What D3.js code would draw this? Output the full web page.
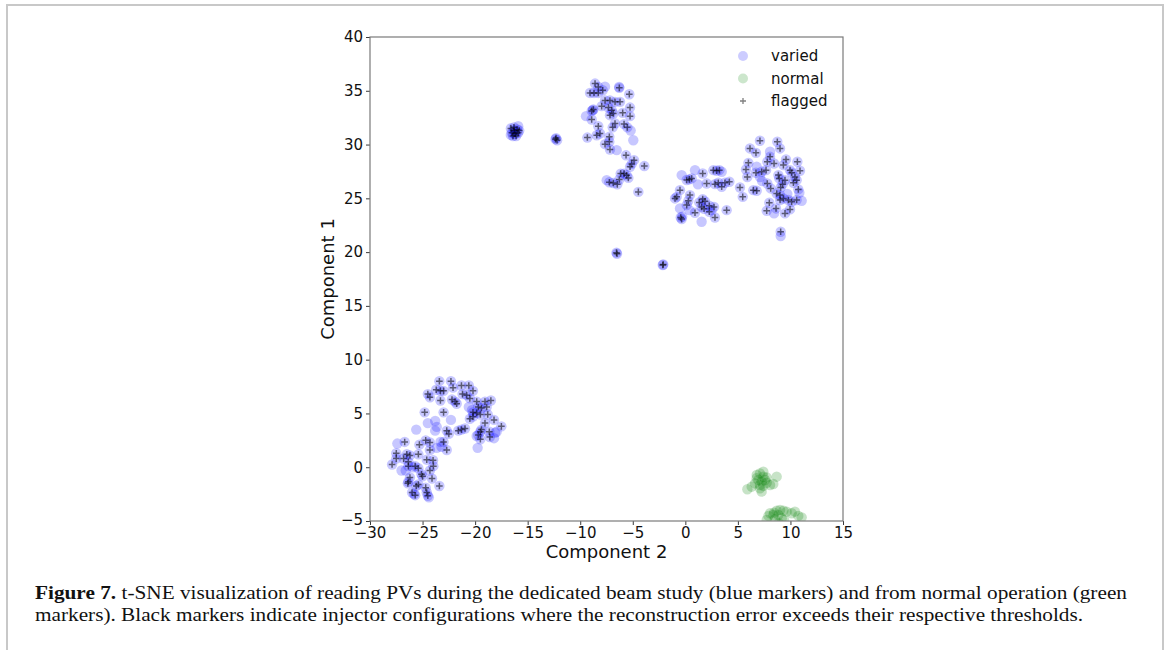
<!DOCTYPE html>
<html>
<head>
<meta charset="utf-8">
<script src="https://cdn.jsdelivr.net/npm/d3@7"></script>
<style>
  body { margin: 0; background: #fff; }
  svg { display: block; }
</style>
</head>
<body>
<div id="chart"></div>
<script>
// ---------- data ----------
// [component 2, component 1, flagged?]
const variedPoints = [
  // lower-left cluster
  [-23.4, 8.0, 1], [-22.3, 8.0, 1], [-21.3, 7.6, 1], [-20.6, 7.6, 1], [-22.1, 7.4, 1],
  [-23.7, 7.2, 1], [-23.3, 7.1, 1], [-23.0, 7.1, 1], [-24.5, 6.8, 1], [-24.3, 6.5, 1],
  [-23.3, 6.2, 1], [-22.2, 6.3, 1], [-21.9, 6.1, 1], [-21.75, 5.9, 1], [-21.2, 6.8, 1],
  [-20.8, 6.7, 1], [-20.2, 7.1, 1], [-20.5, 6.4, 1], [-19.85, 6.1, 1], [-19.06, 6.1, 1],
  [-18.5, 6.2, 1], [-19.7, 5.6, 1], [-19.4, 5.5, 1], [-18.9, 5.6, 1], [-20.2, 5.1, 1],
  [-19.85, 5.05, 1], [-19.5, 4.9, 1], [-18.8, 4.9, 1], [-24.8, 5.1, 1], [-23.0, 5.1, 1],
  [-20.5, 4.5, 1], [-20.2, 4.7, 1], [-19.06, 4.1, 1], [-18.2, 4.4, 1], [-17.5, 3.8, 1],
  [-19.4, 3.5, 1], [-19.5, 3.3, 1], [-19.7, 3.0, 1], [-18.65, 3.3, 1], [-18.6, 2.8, 1],
  [-19.5, 2.6, 1], [-22.7, 3.4, 1], [-22.5, 3.1, 1], [-21.6, 3.4, 1], [-21.3, 3.5, 1],
  [-20.96, 3.6, 1], [-26.7, 2.35, 1], [-25.3, 2.1, 1], [-24.7, 2.5, 1], [-24.3, 2.3, 1],
  [-23.0, 2.35, 1], [-22.7, 1.6, 1], [-24.3, 1.6, 1], [-27.5, 1.3, 1], [-27.5, 0.8, 1],
  [-26.5, 1.2, 1], [-26.2, 1.1, 1], [-25.4, 1.2, 1], [-24.6, 0.7, 1], [-24.0, 0.65, 1],
  [-26.8, 0.8, 1], [-27.9, 0.25, 1], [-26.35, 0.5, 1], [-26.35, 0.1, 1], [-25.7, 0.1, 1],
  [-25.4, -0.1, 1], [-23.97, 0.1, 1], [-24.3, -0.3, 1], [-25.1, -0.65, 1], [-25.0, -0.85, 1],
  [-26.2, -0.95, 1], [-26.35, -1.35, 1], [-26.4, -1.5, 1], [-25.4, -1.6, 1], [-25.6, -1.75, 1],
  [-24.1, -1.05, 1], [-23.4, -1.75, 1], [-24.7, -1.9, 1], [-24.6, -2.35, 1], [-26.0, -2.35, 1],
  [-25.7, -2.6, 1], [-24.5, -2.65, 1],
  [-25.6, 3.5, 0], [-23.8, 4.3, 0], [-23.65, 3.75, 0], [-23.8, 3.4, 0], [-22.3, 4.4, 0],
  [-27.4, 2.2, 0], [-23.3, 2.35, 0], [-23.2, 1.9, 0], [-23.65, 1.8, 0], [-27.0, -0.3, 0],
  [-20.6, 5.6, 0], [-19.85, 2.9, 0], [-19.76, 1.8, 0], [-18.1, 3.2, 0], [-17.95, 3.3, 0],
  [-18.2, 2.7, 0], [-24.5, 4.1, 0], [-25.9, 0.0, 0], [-26.6, -0.3, 0], [-20.3, 5.3, 0],
  [-24.4, -2.8, 0], [-25.8, -2.5, 0],
  // tight cluster near (-16, 31)
  [-16.6, 31.5, 1], [-16.3, 31.6, 1], [-16.0, 31.4, 1], [-16.5, 31.1, 1], [-16.2, 31.0, 1],
  [-15.9, 31.1, 1], [-16.4, 30.8, 1], [-16.1, 30.8, 1], [-15.8, 31.3, 1], [-16.3, 31.3, 1],
  [-16.6, 30.9, 0], [-15.9, 31.7, 0],
  [-12.3, 30.6, 1], [-12.2, 30.4, 1], [-12.35, 30.5, 1],
  // upper S-shaped cluster
  [-8.59, 35.67, 1], [-8.28, 35.36, 1], [-9.07, 34.8, 1], [-8.69, 34.8, 1], [-8.28, 34.8, 1],
  [-7.86, 35.05, 1], [-6.28, 35.27, 1], [-5.33, 34.68, 1], [-7.64, 34.1, 1], [-7.17, 34.1, 1],
  [-6.69, 33.97, 1], [-6.21, 33.97, 1], [-8.75, 33.26, 1], [-8.91, 33.13, 1], [-7.96, 33.57, 1],
  [-7.32, 33.44, 1], [-7.0, 33.2, 1], [-5.26, 33.44, 1], [-5.96, 32.95, 1], [-5.26, 32.64, 1],
  [-8.91, 32.33, 1], [-7.17, 32.73, 1], [-6.85, 32.89, 1], [-6.69, 31.96, 1], [-6.91, 31.6, 1],
  [-5.83, 31.9, 1], [-5.52, 31.6, 1], [-8.28, 31.7, 1], [-8.43, 30.87, 1], [-8.12, 31.03, 1],
  [-9.32, 30.65, 1], [-7.23, 30.72, 1], [-7.64, 30.04, 1], [-7.17, 29.54, 1], [-7.23, 30.25, 1],
  [-5.64, 29.0, 1], [-4.88, 28.55, 1], [-5.1, 28.2, 1], [-5.26, 27.93, 1], [-6.15, 27.3, 1],
  [-5.83, 27.3, 1], [-5.58, 27.15, 1], [-5.42, 26.9, 1], [-7.23, 26.5, 1], [-6.85, 26.42, 1],
  [-6.47, 26.3, 1], [-6.28, 26.75, 1], [-4.47, 25.6, 1], [-3.9, 28.0, 1],
  [-9.45, 32.64, 0], [-4.95, 30.4, 0], [-7.64, 35.37, 0], [-6.53, 29.48, 0], [-7.48, 26.69, 0],
  [-5.2, 31.3, 0], [-6.3, 35.35, 0], [-8.8, 33.2, 0],
  // isolated points
  [-6.55, 19.95, 1], [-6.5, 19.85, 1], [-2.15, 18.8, 1], [-2.1, 18.85, 1],
  // middle cluster
  [-0.51, 25.76, 1], [-0.98, 24.99, 1], [-0.82, 25.14, 1], [0.13, 26.7, 1], [0.38, 26.76, 1],
  [0.6, 26.85, 1], [0.44, 25.3, 1], [0.29, 24.77, 1], [0.13, 24.37, 1], [1.33, 24.62, 1],
  [1.65, 24.93, 1], [1.87, 24.72, 1], [2.28, 24.31, 1], [1.55, 24.2, 1], [1.78, 24.03, 1],
  [1.65, 27.31, 1], [0.92, 23.66, 1], [2.73, 24.2, 1], [2.28, 23.75, 1], [2.82, 23.22, 1],
  [2.03, 26.38, 1], [2.82, 26.32, 1], [3.14, 26.45, 1], [3.46, 26.07, 1], [3.77, 26.45, 1],
  [4.19, 26.54, 1], [2.67, 27.62, 1], [2.98, 27.56, 1], [3.24, 27.62, 1], [3.93, 23.9, 1],
  [-0.44, 23.22, 1], [-0.35, 23.07, 1], [5.2, 26.01, 1], [5.46, 25.14, 1],
  [-0.35, 27.16, 0], [0.92, 27.62, 0], [1.55, 22.82, 0], [0.38, 23.9, 0], [3.46, 27.47, 0],
  [2.5, 23.9, 0], [-0.51, 24.06, 0], [1.2, 26.3, 0], [-0.3, 23.3, 0],
  // right cluster
  [7.1, 30.35, 1], [8.75, 30.26, 1], [9.01, 29.64, 1], [6.15, 29.64, 1], [6.72, 29.23, 1],
  [8.06, 28.86, 1], [7.8, 28.4, 1], [8.44, 28.24, 1], [9.33, 28.09, 1], [9.58, 28.61, 1],
  [10.66, 28.4, 1], [6.0, 28.3, 1], [5.77, 27.68, 1], [5.9, 26.98, 1], [6.72, 27.38, 1],
  [7.26, 27.47, 1], [7.68, 27.62, 1], [8.85, 27.16, 1], [8.94, 26.85, 1], [9.96, 27.62, 1],
  [10.12, 27.38, 1], [10.43, 26.98, 1], [10.91, 27.56, 1], [9.48, 26.69, 1], [9.26, 26.32, 1],
  [9.07, 26.01, 1], [7.8, 26.38, 1], [8.12, 25.92, 1], [10.59, 26.69, 1], [10.28, 26.45, 1],
  [10.75, 25.83, 1], [6.47, 25.76, 1], [6.79, 25.7, 1], [8.69, 25.45, 1], [9.01, 25.3, 1],
  [9.33, 24.99, 1], [9.01, 24.84, 1], [9.8, 24.84, 1], [10.12, 24.68, 1], [10.59, 24.84, 1],
  [7.99, 24.59, 1], [8.63, 24.06, 1], [7.74, 23.84, 1], [9.48, 23.6, 1], [9.96, 23.97, 1],
  [9.07, 21.89, 1],
  [8.06, 29.33, 0], [7.1, 26.98, 0], [10.85, 25.52, 0], [11.07, 24.77, 0], [8.44, 23.6, 0],
  [9.07, 21.49, 0], [6.79, 27.93, 0], [7.3, 26.6, 0], [9.7, 25.4, 0]
];

const normalPoints = [
  [6.79, -0.72], [7.1, -0.57], [7.42, -0.88], [6.95, -1.19], [7.26, -1.34],
  [7.58, -1.19], [6.63, -1.5], [7.1, -1.65], [7.42, -1.74], [7.74, -1.44],
  [8.06, -1.65], [8.37, -1.56], [8.69, -0.88], [5.9, -2.05], [6.31, -1.81],
  [7.26, -2.27], [7.1, -1.96], [6.79, -1.03], [7.74, -0.94], [7.42, -0.41],
  [8.06, -4.28], [8.44, -4.22], [8.69, -4.04], [9.01, -3.98], [9.33, -4.04],
  [8.37, -4.44], [8.85, -4.44], [7.9, -4.53], [9.64, -4.13], [10.12, -4.28],
  [10.43, -4.13], [10.75, -4.53], [11.07, -4.66], [9.17, -4.75], [8.53, -4.84],
  [7.74, -4.9], [9.39, -4.9], [8.9, -5.2]
];

const xTicks = [-30, -25, -20, -15, -10, -5, 0, 5, 10, 15];
const yTicks = [-5, 0, 5, 10, 15, 20, 25, 30, 35, 40];
const legendItems = ['varied', 'normal', 'flagged'];
const captionLines = [
  ['Figure 7.', ' t-SNE visualization of reading PVs during the dedicated beam study (blue markers) and from normal operation (green'],
  ['', 'markers). Black markers indicate injector configurations where the reconstruction error exceeds their respective thresholds.']
];

// ---------- layout ----------
const W = 1170, H = 650;
const plot = { left: 370, right: 843, top: 37, bottom: 521 };
const fmt = d => String(d).replace('-', '\u2212');

const svg = d3.select('#chart').append('svg')
  .attr('width', W)
  .attr('height', H);

/* ----------page frame------------*/
svg.append('path')
  .attr('d', `M7,${H} L7,5 L1163,5 L1163,${H}`)
  .style('fill', 'none')
  .style('stroke', '#c8c8c8')
  .style('stroke-width', 2);

const xScale = d3.scaleLinear().domain([-30, 15]).range([plot.left, plot.right]);
const yScale = d3.scaleLinear().domain([-5, 40]).range([plot.bottom, plot.top]);

svg.append('defs').append('clipPath')
  .attr('id', 'plot-clip')
  .append('rect')
  .attr('x', plot.left)
  .attr('y', plot.top)
  .attr('width', plot.right - plot.left)
  .attr('height', plot.bottom - plot.top);

/* ----------markers------------*/
const marks = svg.append('g').attr('clip-path', 'url(#plot-clip)');

marks.append('g').selectAll('circle')
  .data(variedPoints)
  .enter().append('circle')
  .attr('cx', d => xScale(d[0]))
  .attr('cy', d => yScale(d[1]))
  .attr('r', 5.2)
  .style('fill', 'blue')
  .style('fill-opacity', 0.22);

marks.append('g').selectAll('circle')
  .data(normalPoints)
  .enter().append('circle')
  .attr('cx', d => xScale(d[0]))
  .attr('cy', d => yScale(d[1]))
  .attr('r', 5.2)
  .style('fill', 'green')
  .style('fill-opacity', 0.22);

const plus = (x, y, s) => `M${x - s},${y}H${x + s}M${x},${y - s}V${y + s}`;

marks.append('g').selectAll('path')
  .data(variedPoints.filter(d => d[2] === 1))
  .enter().append('path')
  .attr('d', d => plus(xScale(d[0]), yScale(d[1]), 3.3))
  .style('stroke', 'black')
  .style('stroke-opacity', 0.55)
  .style('stroke-width', 1.5);

/* ----------axes------------*/
const xAxis = svg.append('g')
  .attr('transform', `translate(0,${plot.bottom})`)
  .call(d3.axisBottom(xScale).tickValues(xTicks).tickFormat(fmt).tickSize(4).tickPadding(2));
const yAxis = svg.append('g')
  .attr('transform', `translate(${plot.left},0)`)
  .call(d3.axisLeft(yScale).tickValues(yTicks).tickFormat(fmt).tickSize(4).tickPadding(3));

[xAxis, yAxis].forEach(a => {
  a.select('.domain').remove();
  a.selectAll('line').style('stroke', '#222').style('stroke-width', 0.9);
  a.selectAll('text')
    .style('font-family', 'DejaVu Sans')
    .style('font-size', '15px')
    .style('fill', '#111');
});
// the -5 label sits just above the -30 label, as in the figure
yAxis.selectAll('.tick text').filter(d => d === -5).attr('dy', '0.2em');

svg.append('rect')
  .attr('x', plot.left)
  .attr('y', plot.top)
  .attr('width', plot.right - plot.left)
  .attr('height', plot.bottom - plot.top)
  .style('fill', 'none')
  .style('stroke', '#7a7a7a')
  .style('stroke-width', 1.2);

svg.append('text')
  .attr('x', (plot.left + plot.right) / 2)
  .attr('y', 558)
  .attr('text-anchor', 'middle')
  .style('font-family', 'DejaVu Sans')
  .style('font-size', '18px')
  .style('fill', '#111')
  .text('Component 2');

svg.append('text')
  .attr('transform', `translate(334,${(plot.top + plot.bottom) / 2}) rotate(-90)`)
  .attr('text-anchor', 'middle')
  .style('font-family', 'DejaVu Sans')
  .style('font-size', '18px')
  .style('fill', '#111')
  .text('Component 1');

/* ----------legend------------*/
const legend = svg.append('g').attr('transform', 'translate(743,56)');
legendItems.forEach((name, i) => {
  const row = legend.append('g').attr('transform', `translate(0,${i * 22.5})`);
  if (name === 'flagged') {
    row.append('path')
      .attr('d', plus(0, 0, 3))
      .style('stroke', 'black')
      .style('stroke-opacity', 0.5)
      .style('stroke-width', 1.3);
  } else {
    row.append('circle')
      .attr('r', 5)
      .style('fill', name === 'varied' ? 'blue' : 'green')
      .style('fill-opacity', 0.2);
  }
  row.append('text')
    .attr('x', 28)
    .attr('y', 5)
    .style('font-family', 'DejaVu Sans')
    .style('font-size', '15px')
    .style('fill', '#111')
    .text(name);
});

/* ----------caption------------*/
const captionWidths = [1092, 1048];
captionLines.forEach((parts, i) => {
  const t = svg.append('text')
    .attr('x', 35)
    .attr('y', 599 + i * 22)
    .attr('textLength', captionWidths[i])
    .attr('lengthAdjust', 'spacingAndGlyphs')
    .style('font-family', 'Liberation Serif')
    .style('font-size', '18.5px')
    .style('fill', '#111');
  if (parts[0]) t.append('tspan').style('font-weight', 'bold').text(parts[0]);
  t.append('tspan').text(parts[1]);
});
</script>
</body>
</html>
